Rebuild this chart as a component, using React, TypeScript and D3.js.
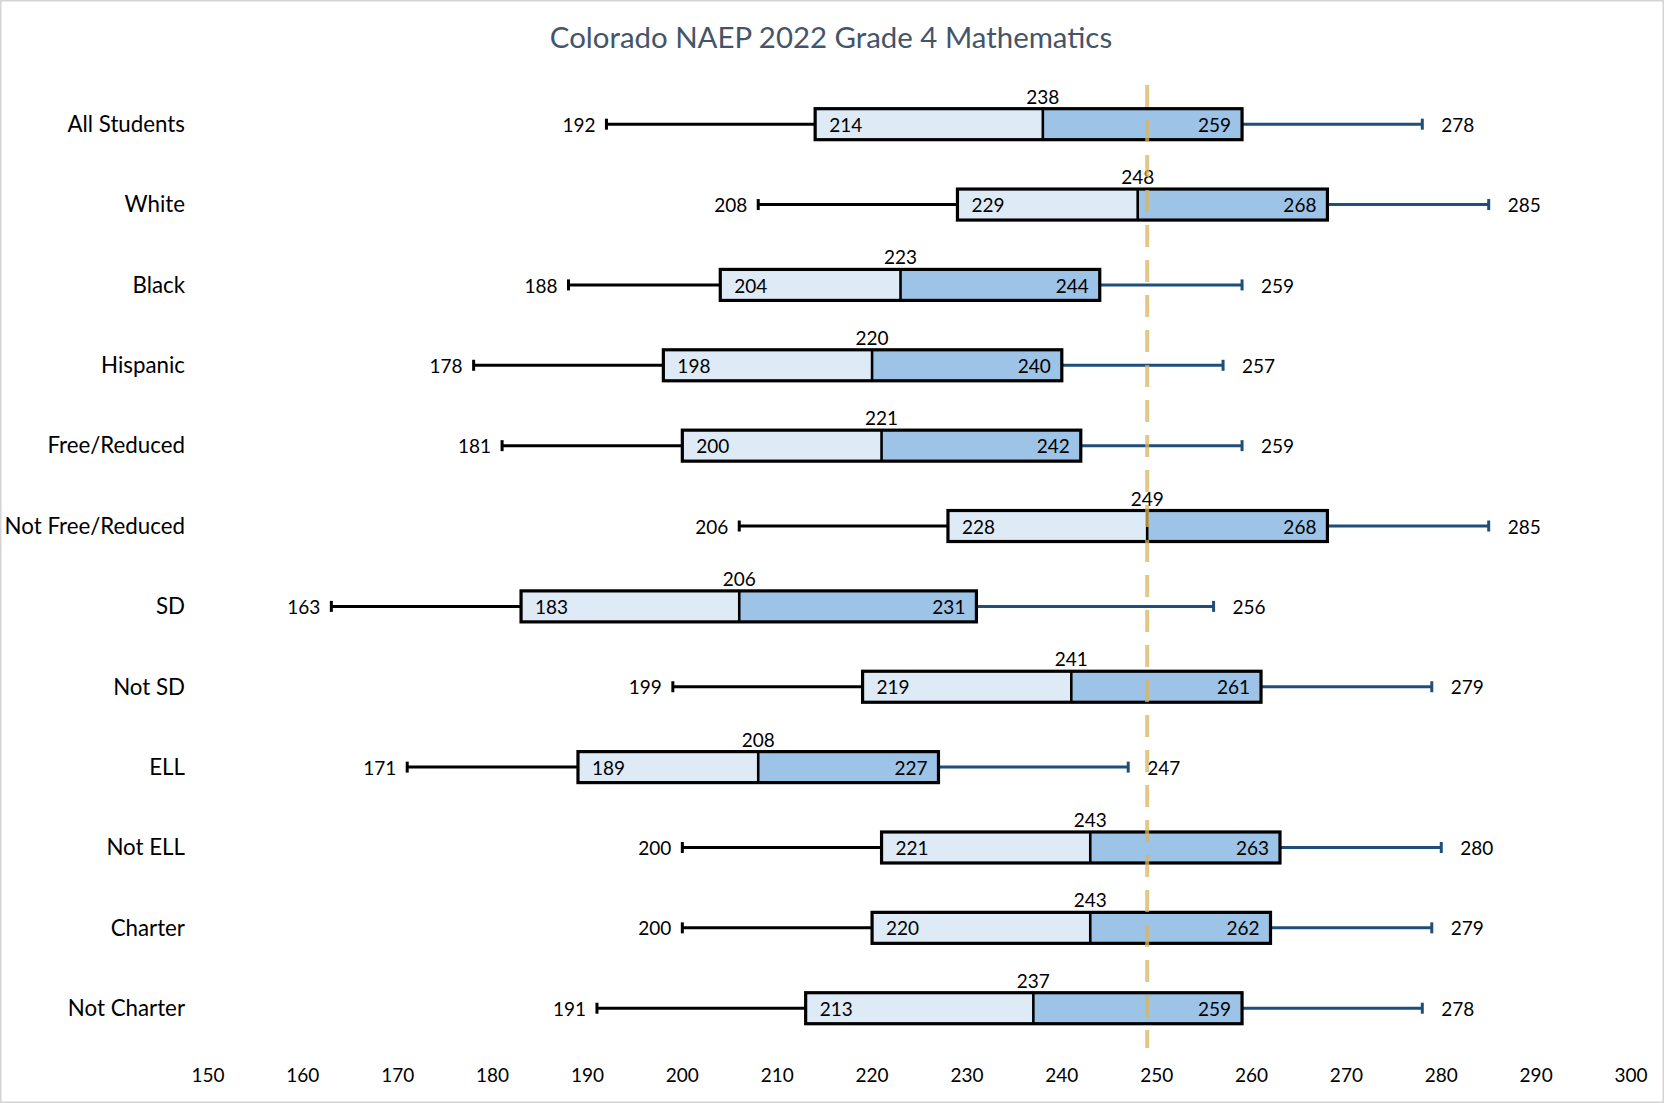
import React from "react";
import * as d3 from "d3";

const categories = [
  "All Students",
  "White",
  "Black",
  "Hispanic",
  "Free/Reduced",
  "Not Free/Reduced",
  "SD",
  "Not SD",
  "ELL",
  "Not ELL",
  "Charter",
  "Not Charter",
];
const minValues = [192, 208, 188, 178, 181, 206, 163, 199, 171, 200, 200, 191];
const q1Values = [214, 229, 204, 198, 200, 228, 183, 219, 189, 221, 220, 213];
const medianValues = [238, 248, 223, 220, 221, 249, 206, 241, 208, 243, 243, 237];
const q3Values = [259, 268, 244, 240, 242, 268, 231, 261, 227, 263, 262, 259];
const maxValues = [278, 285, 259, 257, 259, 285, 256, 279, 247, 280, 279, 278];
const xTicks = [150, 160, 170, 180, 190, 200, 210, 220, 230, 240, 250, 260, 270, 280, 290, 300];
const referenceValue = 249;
const title = "Colorado NAEP 2022 Grade 4 Mathematics";

const W = 1664;
const H = 1103;
const FONT = "Lato, 'Noto Sans', sans-serif";

export default function App() {
  const x = d3.scaleLinear().domain([150, 300]).range([208, 1631]);
  const y = d3
    .scaleBand<string>()
    .domain(categories)
    .range([83.8, 1048.6])
    .paddingInner(0.615)
    .paddingOuter(0.31);
  const boxH = 31;
  const capH = 11;

  const rows = categories.map((c, i) => ({
    c,
    cy: (y(c) as number) + y.bandwidth() / 2,
    min: minValues[i],
    q1: q1Values[i],
    med: medianValues[i],
    q3: q3Values[i],
    max: maxValues[i],
  }));

  return (
    <svg
      width={W}
      height={H}
      style={{ position: "absolute", left: 0, top: 0, background: "#fff" }}
      fontFamily={FONT}
    >
      <rect x={0} y={0} width={W} height={H} fill="#fff" />
      <rect x={0.75} y={0.75} width={W - 1.5} height={H - 1.5} fill="none" stroke="#D4D4D4" strokeWidth={1.5} />
      <text x={831} y={48} textAnchor="middle" fontSize={29.4} fill="#44546A">
        {title}
      </text>

      {rows.map((r) => (
        <g key={r.c}>
          <text x={185} y={r.cy} dy="0.35em" textAnchor="end" fontSize={22.3} fill="#000">
            {r.c}
          </text>
          {/* left whisker */}
          <line x1={x(r.min)} x2={x(r.q1)} y1={r.cy} y2={r.cy} stroke="#000" strokeWidth={3} />
          <line x1={x(r.min)} x2={x(r.min)} y1={r.cy - capH / 2} y2={r.cy + capH / 2} stroke="#000" strokeWidth={3} />
          {/* right whisker */}
          <line x1={x(r.q3)} x2={x(r.max)} y1={r.cy} y2={r.cy} stroke="#1F4E79" strokeWidth={3} />
          <line x1={x(r.max)} x2={x(r.max)} y1={r.cy - capH / 2} y2={r.cy + capH / 2} stroke="#1F4E79" strokeWidth={3} />
          {/* box */}
          <rect x={x(r.q1)} y={r.cy - boxH / 2} width={x(r.med) - x(r.q1)} height={boxH} fill="#DEEBF7" />
          <rect x={x(r.med)} y={r.cy - boxH / 2} width={x(r.q3) - x(r.med)} height={boxH} fill="#9DC3E6" />
          <rect
            x={x(r.q1)}
            y={r.cy - boxH / 2}
            width={x(r.q3) - x(r.q1)}
            height={boxH}
            fill="none"
            stroke="#000"
            strokeWidth={3.2}
          />
          <line x1={x(r.med)} x2={x(r.med)} y1={r.cy - boxH / 2} y2={r.cy + boxH / 2} stroke="#000" strokeWidth={2.6} />
          {/* labels */}
          <text x={x(r.min) - 11} y={r.cy + 1} dy="0.35em" textAnchor="end" fontSize={19} fill="#000">
            {r.min}
          </text>
          <text x={x(r.q1) + 14} y={r.cy + 1} dy="0.35em" textAnchor="start" fontSize={19} fill="#000">
            {r.q1}
          </text>
          <text x={x(r.med)} y={r.cy - boxH / 2 - 5} textAnchor="middle" fontSize={19} fill="#000">
            {r.med}
          </text>
          <text x={x(r.q3) - 11} y={r.cy + 1} dy="0.35em" textAnchor="end" fontSize={19} fill="#000">
            {r.q3}
          </text>
          <text x={x(r.max) + 19} y={r.cy + 1} dy="0.35em" textAnchor="start" fontSize={19} fill="#000">
            {r.max}
          </text>
        </g>
      ))}

      <line
        x1={x(referenceValue)}
        x2={x(referenceValue)}
        y1={85}
        y2={1048}
        stroke="#D9B45E"
        strokeOpacity={0.75}
        strokeWidth={4}
        strokeDasharray="22 13"
      />

      {xTicks.map((t) => (
        <text key={t} x={x(t)} y={1075} dy="0.35em" textAnchor="middle" fontSize={19} fill="#000">
          {t}
        </text>
      ))}
    </svg>
  );
}
